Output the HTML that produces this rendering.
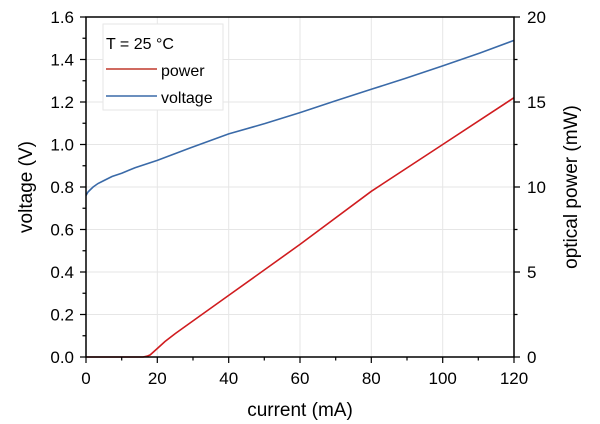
<!DOCTYPE html><html><head><style>body{margin:0;background:#fff}svg{display:block;font-family:"Liberation Sans",sans-serif}</style></head><body>
<svg width="600" height="424" viewBox="0 0 600 424">
<g stroke="#e6e6e6" stroke-width="1">
<line x1="157.3" y1="17" x2="157.3" y2="357"/><line x1="228.7" y1="17" x2="228.7" y2="357"/><line x1="300" y1="17" x2="300" y2="357"/><line x1="371.3" y1="17" x2="371.3" y2="357"/><line x1="442.7" y1="17" x2="442.7" y2="357"/>
<line x1="86" y1="314.5" x2="514" y2="314.5"/><line x1="86" y1="272" x2="514" y2="272"/><line x1="86" y1="229.5" x2="514" y2="229.5"/><line x1="86" y1="187" x2="514" y2="187"/><line x1="86" y1="144.5" x2="514" y2="144.5"/><line x1="86" y1="102" x2="514" y2="102"/><line x1="86" y1="59.5" x2="514" y2="59.5"/>
</g>
<polyline fill="none" stroke="#3a6aa8" stroke-width="1.6" points="86,195.5 88,192 90,190 93.1,187 98,183.5 103.8,180.6 112,176.5 121.7,173.2 135,167.8 157.3,160.4 190,148 228.7,133.9 265,123.5 300,112.6 335,101 371.3,89.3 405,78.5 442.7,65.9 480,53 514,40.4"/>
<polyline fill="none" stroke="#d01c1f" stroke-width="1.6" points="86,357 143.1,357 147,356.2 150.2,354.9 157.3,348.5 165,341.5 175.2,333.6 193,320.9 228.7,295.4 300,244.4 371.3,191.3 442.7,144.5 514,97.7"/>
<rect x="86" y="17" width="428" height="340" stroke="#000" stroke-width="1.5" fill="none"/>
<g stroke="#000" stroke-width="1.2">
<path d="M86,357v6M157.3,357v6M228.7,357v6M300,357v6M371.3,357v6M442.7,357v6M514,357v6M121.7,357v3.5M193,357v3.5M264.3,357v3.5M335.7,357v3.5M407,357v3.5M478.3,357v3.5"/>
<path d="M86,357h-6M86,314.5h-6M86,272h-6M86,229.5h-6M86,187h-6M86,144.5h-6M86,102h-6M86,59.5h-6M86,17h-6M86,335.75h-3.5M86,293.25h-3.5M86,250.75h-3.5M86,208.25h-3.5M86,165.75h-3.5M86,123.25h-3.5M86,80.75h-3.5M86,38.25h-3.5"/>
<path d="M514,357h6M514,272h6M514,187h6M514,102h6M514,17h6M514,314.5h3.5M514,229.5h3.5M514,144.5h3.5M514,59.5h3.5"/>
</g>
<g font-size="17" text-anchor="middle" fill="#000">
<text x="86" y="384">0</text><text x="157.3" y="384">20</text><text x="228.7" y="384">40</text><text x="300" y="384">60</text><text x="371.3" y="384">80</text><text x="442.7" y="384">100</text><text x="514" y="384">120</text>
</g>
<g font-size="17" text-anchor="end">
<text x="74" y="363">0.0</text><text x="74" y="320.5">0.2</text><text x="74" y="278">0.4</text><text x="74" y="235.5">0.6</text><text x="74" y="193">0.8</text><text x="74" y="150.5">1.0</text><text x="74" y="108">1.2</text><text x="74" y="65.5">1.4</text><text x="74" y="23">1.6</text>
</g>
<g font-size="17">
<text x="527" y="363">0</text><text x="527" y="278">5</text><text x="527" y="193">10</text><text x="527" y="108">15</text><text x="527" y="23">20</text>
</g>
<text x="300" y="416" font-size="19" text-anchor="middle">current (mA)</text>
<text transform="translate(32,187) rotate(-90)" font-size="19" text-anchor="middle">voltage (V)</text>
<text transform="translate(577,187) rotate(-90)" font-size="19" text-anchor="middle">optical power (mW)</text>
<rect x="103" y="24" width="120" height="86" fill="#fff" stroke="#e6e6e6"/>
<text x="106" y="49" font-size="16">T = 25 °C</text>
<line x1="106" y1="69" x2="157" y2="69" stroke="#c0392b" stroke-width="1.5"/>
<text x="161" y="76" font-size="16">power</text>
<line x1="106" y1="96" x2="157" y2="96" stroke="#3a6aa8" stroke-width="1.5"/>
<text x="161" y="103" font-size="16">voltage</text>
</svg></body></html>
